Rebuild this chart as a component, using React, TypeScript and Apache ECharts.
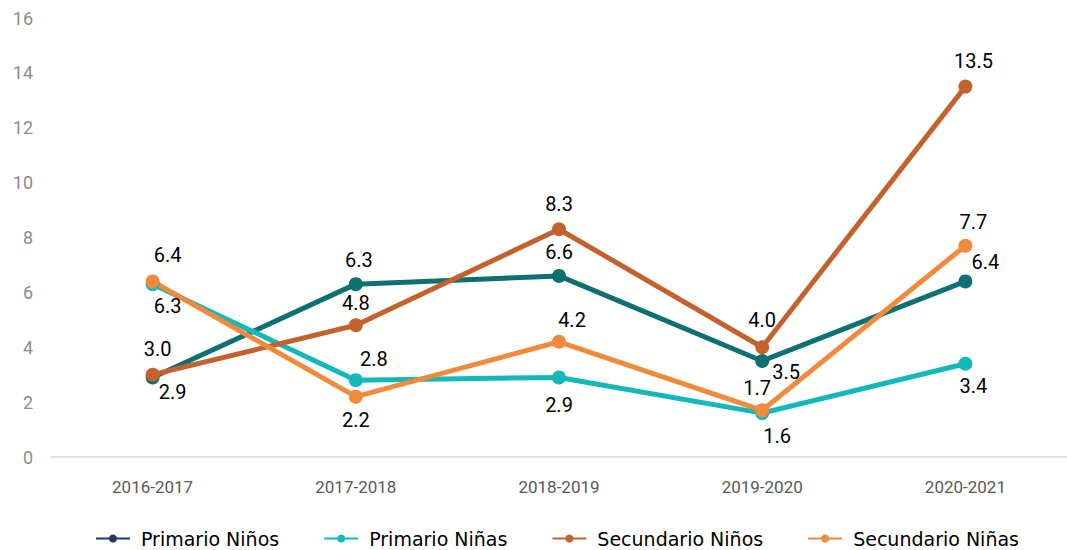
import React, { useEffect, useRef } from "react";
import * as echarts from "echarts";

const categories = ["2016-2017", "2017-2018", "2018-2019", "2019-2020", "2020-2021"];
const primarioNinos = [2.9, 6.3, 6.6, 3.5, 6.4];
const primarioNinas = [6.3, 2.8, 2.9, 1.6, 3.4];
const secundarioNinos = [3.0, 4.8, 8.3, 4.0, 13.5];
const secundarioNinas = [6.4, 2.2, 4.2, 1.7, 7.7];
const yTicks = { min: 0, max: 16, interval: 2 };

type LP = { position: string; offset: number[] };
const pnLabels: LP[] = [
  { position: "bottom", offset: [20, -7] },
  { position: "top", offset: [3, -2] },
  { position: "top", offset: [0, -2] },
  { position: "right", offset: [-2, 11] },
  { position: "top", offset: [20, 3] },
];
const paLabels: LP[] = [
  { position: "bottom", offset: [15, 0] },
  { position: "top", offset: [18, 1] },
  { position: "bottom", offset: [0, 6] },
  { position: "bottom", offset: [15, 1] },
  { position: "bottom", offset: [8, 0] },
];
const snLabels: LP[] = [
  { position: "top", offset: [5, -4] },
  { position: "top", offset: [0, 0] },
  { position: "top", offset: [0, -3] },
  { position: "top", offset: [0, -5] },
  { position: "top", offset: [8, -4] },
];
const saLabels: LP[] = [
  { position: "top", offset: [15, -4] },
  { position: "bottom", offset: [0, 1] },
  { position: "top", offset: [13, 0] },
  { position: "top", offset: [-5, 0] },
  { position: "top", offset: [8, -2] },
];

const mkSeries = (name: string, values: number[], color: string, labels: LP[]) => ({
  name,
  type: "line",
  data: values.map((v, i) => ({
    value: v,
    label: { position: labels[i].position, offset: labels[i].offset },
  })),
  symbol: "circle",
  symbolSize: 14,
  lineStyle: { color, width: 5 },
  itemStyle: { color },
  label: {
    show: true,
    fontSize: 20,
    color: "#000",
    fontFamily: "Roboto",
    formatter: (p: any) => Number(p.value).toFixed(1),
  },
});

export default function App() {
  const ref = useRef<HTMLDivElement>(null);
  useEffect(() => {
    if (!ref.current) return;
    const chart = echarts.init(ref.current, undefined, { renderer: "svg" });
    chart.setOption({
      animation: false,
      backgroundColor: "#fff",
      grid: { left: 51, right: 0, top: 18, bottom: 93 },
      xAxis: {
        type: "category",
        data: categories,
        axisLine: { lineStyle: { color: "#d9d9d9", width: 1.5 } },
        axisTick: { show: false },
        axisLabel: { color: "#595959", fontSize: 17, fontFamily: "Roboto", margin: 21 },
      },
      yAxis: {
        type: "value",
        min: yTicks.min,
        max: yTicks.max,
        interval: yTicks.interval,
        splitLine: { show: false },
        axisLine: { show: false },
        axisTick: { show: false },
        axisLabel: { color: "#8c8c8c", fontSize: 18, fontFamily: "Roboto", margin: 18 },
      },
      legend: {
        left: 95,
        top: 529,
        width: 970,
        padding: 0,
        itemWidth: 34,
        itemHeight: 10,
        itemGap: 44,
        textStyle: { fontSize: 19, color: "#000", fontFamily: "DejaVu Sans", padding: [0, 0, 0, 6] },
        data: [
          { name: "Primario Niños", itemStyle: { color: "#1f3864" }, lineStyle: { color: "#1f3864" } },
          { name: "Primario Niñas" },
          { name: "Secundario Niños" },
          { name: "Secundario Niñas" },
        ],
      },
      series: [
        mkSeries("Primario Niños", primarioNinos, "#0e7070", pnLabels),
        mkSeries("Primario Niñas", primarioNinas, "#13b8b8", paLabels),
        mkSeries("Secundario Niños", secundarioNinos, "#c4622d", snLabels),
        mkSeries("Secundario Niñas", secundarioNinas, "#f28a3c", saLabels),
      ],
    });
    return () => chart.dispose();
  }, []);
  return (
    <div
      ref={ref}
      style={{ position: "fixed", left: 0, top: 0, width: 1067, height: 550 }}
    />
  );
}
